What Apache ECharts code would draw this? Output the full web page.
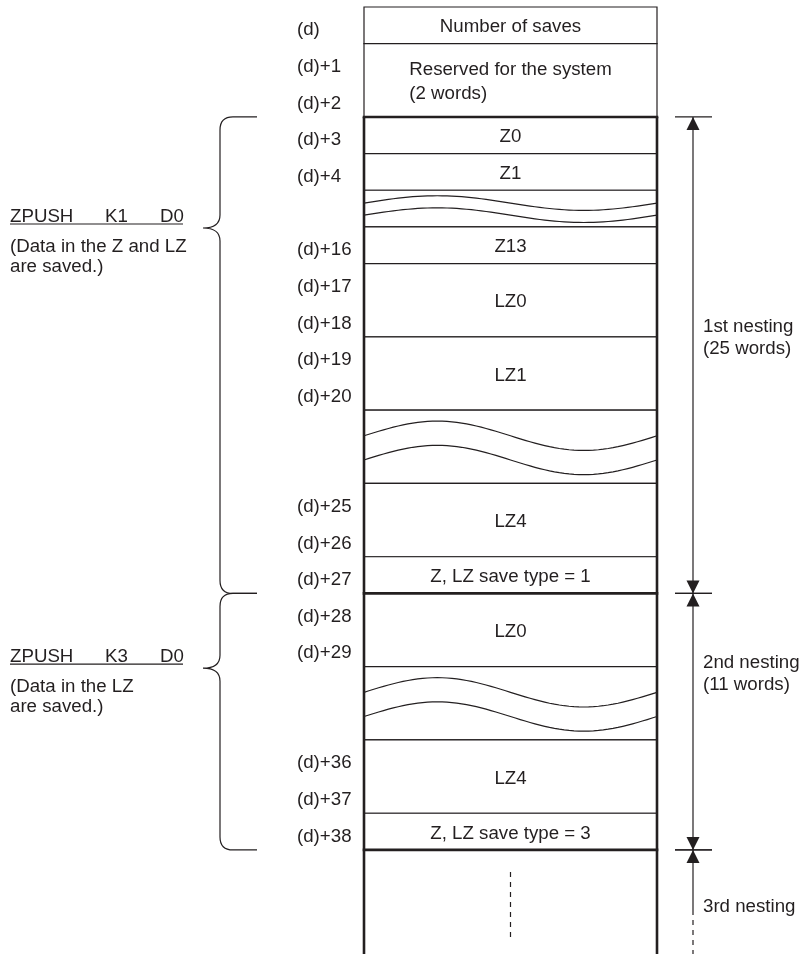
<!DOCTYPE html>
<html>
<head>
<meta charset="utf-8">
<script src="https://cdn.jsdelivr.net/npm/echarts@6/dist/echarts.min.js"></script>
<style>
  html, body { margin: 0; padding: 0; background: #fff; }
  #chart { width: 800px; height: 954px; }
</style>
</head>
<body>
<div id="chart"></div>
<script>
// memory rows, top to bottom. span = how many row slots a cell takes (wavy gaps count too)
const cellTexts = ['Number of saves', 'Reserved for the system\n(2 words)', 'Z0', 'Z1', '', 'Z13', 'LZ0', 'LZ1', '', 'LZ4',
  'Z, LZ save type = 1', 'LZ0', '', 'LZ4', 'Z, LZ save type = 3', ''];
const cellSpans = [1, 2, 1, 1, 1, 1, 2, 2, 2, 2, 1, 2, 2, 2, 1, 3];
const cellGaps = [false, false, false, false, true, false, false, false, true, false, false, false, true, false, false, false];

// device offsets down the left side and the slot they sit in
const offsetLabels = ['(d)', '(d)+1', '(d)+2', '(d)+3', '(d)+4', '(d)+16', '(d)+17', '(d)+18', '(d)+19', '(d)+20',
  '(d)+25', '(d)+26', '(d)+27', '(d)+28', '(d)+29', '(d)+36', '(d)+37', '(d)+38'];
const offsetSlots = [0, 1, 2, 3, 4, 6, 7, 8, 9, 10, 13, 14, 15, 16, 17, 20, 21, 22];

// nesting blocks (slot ranges)
const nestNames = ['1st nesting\n(25 words)', '2nd nesting\n(11 words)', '3rd nesting'];
const nestStart = [3, 16, 23];
const nestEnd = [16, 23, null];

// instructions that produced the first two blocks
const instrWords = [['ZPUSH', 'K1', 'D0'], ['ZPUSH', 'K3', 'D0']];
const instrNotes = ['(Data in the Z and LZ\nare saved.)', '(Data in the LZ\nare saved.)'];

// ---- layout ----
const SLOT_MAX = 25.84;
const BOX_L = 364, BOX_R = 657;
const INK = '#231f20';
const FONT = '18.7px "Liberation Sans", Arial, sans-serif';
const nestTextSlot = [9.03, 18.2, 24.56];
const braceTipSlot = [6.03, 18.04];

const cellStarts = [];
cellSpans.reduce((acc, s) => { cellStarts.push(acc); return acc + s; }, 0);

// widest line of a multi-line label, so a block can be centred but left-aligned
const measureCtx = document.createElement('canvas').getContext('2d');
measureCtx.font = FONT;
function blockWidth(t) {
  return Math.max.apply(null, t.split('\n').map(l => measureCtx.measureText(l).width));
}

const chart = echarts.init(document.getElementById('chart'));

function Y(api, s) { return api.coord([0, s])[1]; }

function renderCell(params, api) {
  const i = params.dataIndex;
  const y0 = Y(api, api.value(0));
  const y1 = Y(api, api.value(1));
  const children = [{
    type: 'rect',
    shape: { x: BOX_L, y: y0, width: BOX_R - BOX_L, height: y1 - y0 },
    style: { fill: '#fff', stroke: INK, lineWidth: 1.2 }
  }];
  const h = y1 - y0, mid = (y0 + y1) / 2;
  if (cellGaps[i]) {
    [-0.15, 0.18].forEach(k => {
      const pts = [];
      for (let t = 0; t <= 1.0001; t += 1 / 60) {
        pts.push([BOX_L + t * (BOX_R - BOX_L), mid + k * h - 0.2 * h * Math.sin(2 * Math.PI * t)]);
      }
      children.push({ type: 'polyline', shape: { points: pts }, style: { fill: null, stroke: INK, lineWidth: 1.2 } });
    });
  } else if (cellTexts[i]) {
    const multi = cellTexts[i].indexOf('\n') >= 0;
    const cx = (BOX_L + BOX_R) / 2;
    children.push({
      type: 'text',
      style: {
        text: cellTexts[i], x: multi ? cx - blockWidth(cellTexts[i]) / 2 : cx, y: mid + 2,
        textAlign: multi ? 'left' : 'center', textVerticalAlign: 'middle',
        font: FONT, fill: INK, lineHeight: 24
      }
    });
  }
  return { type: 'group', children };
}

function renderOffset(params, api) {
  const s = api.value(0);
  return {
    type: 'text',
    style: {
      text: offsetLabels[params.dataIndex], x: 297, y: Y(api, s + 0.5) + 5,
      textAlign: 'left', textVerticalAlign: 'middle', font: FONT, fill: INK
    }
  };
}

function renderNest(params, api) {
  const i = params.dataIndex;
  const y0 = Y(api, nestStart[i]);
  const hasEnd = nestEnd[i] != null;
  const y1 = hasEnd ? Y(api, nestEnd[i]) : Y(api, SLOT_MAX);
  const ax = 693, aw = 6.5, ah = 13;
  const children = [];
  // thick frame of the block
  children.push({ type: 'line', shape: { x1: BOX_L - 1.3, y1: y0, x2: BOX_R + 1.3, y2: y0 }, style: { stroke: INK, lineWidth: 2.6 } });
  children.push({ type: 'line', shape: { x1: BOX_L, y1: y0, x2: BOX_L, y2: y1 }, style: { stroke: INK, lineWidth: 2.6 } });
  children.push({ type: 'line', shape: { x1: BOX_R, y1: y0, x2: BOX_R, y2: y1 }, style: { stroke: INK, lineWidth: 2.6 } });
  // dimension arrow
  children.push({ type: 'line', shape: { x1: 675, y1: y0, x2: 712, y2: y0 }, style: { stroke: INK, lineWidth: 1.2 } });
  children.push({ type: 'polygon', shape: { points: [[ax, y0], [ax - aw, y0 + ah], [ax + aw, y0 + ah]] }, style: { fill: INK } });
  if (hasEnd) {
    children.push({ type: 'line', shape: { x1: ax, y1: y0, x2: ax, y2: y1 }, style: { stroke: INK, lineWidth: 1.2 } });
    children.push({ type: 'line', shape: { x1: 675, y1: y1, x2: 712, y2: y1 }, style: { stroke: INK, lineWidth: 1.2 } });
    children.push({ type: 'polygon', shape: { points: [[ax, y1], [ax - aw, y1 - ah], [ax + aw, y1 - ah]] }, style: { fill: INK } });
  } else {
    const ys = y0 + 60;
    children.push({ type: 'line', shape: { x1: ax, y1: y0, x2: ax, y2: ys }, style: { stroke: INK, lineWidth: 1.2 } });
    children.push({ type: 'line', shape: { x1: ax, y1: ys, x2: ax, y2: y1 }, style: { stroke: INK, lineWidth: 1.2, lineDash: [5, 5] } });
    // dashed continuation inside the box
    const cx = (BOX_L + BOX_R) / 2;
    children.push({ type: 'line', shape: { x1: cx, y1: y0 + 22, x2: cx, y2: y0 + 92 }, style: { stroke: INK, lineWidth: 1.2, lineDash: [5, 5] } });
  }
  children.push({
    type: 'text',
    style: {
      text: nestNames[i], x: 703, y: Y(api, nestTextSlot[i]),
      textAlign: 'left', textVerticalAlign: 'middle', font: FONT, fill: INK, lineHeight: 22
    }
  });
  return { type: 'group', children };
}

function renderBrace(params, api) {
  const i = params.dataIndex;
  const yT = Y(api, nestStart[i]), yB = Y(api, nestEnd[i]), yM = Y(api, braceTipSlot[i]);
  const xr = 257, xv = 220, xt = 203, r = 13;
  const d = `M${xr},${yT} L${xv + r},${yT} Q${xv},${yT} ${xv},${yT + r} L${xv},${yM - r} Q${xv},${yM} ${xt},${yM}` +
    ` Q${xv},${yM} ${xv},${yM + r} L${xv},${yB - r} Q${xv},${yB} ${xv + r},${yB} L${xr},${yB}`;
  const w = instrWords[i];
  const ty = yM - 11;
  return {
    type: 'group',
    children: [
      { type: 'path', shape: { pathData: d }, style: { fill: null, stroke: INK, lineWidth: 1.2 } },
      { type: 'text', style: { text: w[0], x: 10, y: ty, textAlign: 'left', textVerticalAlign: 'middle', font: FONT, fill: INK } },
      { type: 'text', style: { text: w[1], x: 105, y: ty, textAlign: 'left', textVerticalAlign: 'middle', font: FONT, fill: INK } },
      { type: 'text', style: { text: w[2], x: 160, y: ty, textAlign: 'left', textVerticalAlign: 'middle', font: FONT, fill: INK } },
      { type: 'line', shape: { x1: 10, y1: yM - 4, x2: 183, y2: yM - 4 }, style: { stroke: INK, lineWidth: 1.2 } },
      {
        type: 'text',
        style: { text: instrNotes[i], x: 10, y: yM + 9, textAlign: 'left', textVerticalAlign: 'top', font: FONT, fill: INK, lineHeight: 20 }
      }
    ]
  };
}

const option = {
  animation: false,
  grid: { left: 0, right: 0, top: 7, bottom: 0 },
  xAxis: { type: 'value', min: 0, max: 800, show: false },
  yAxis: { type: 'value', min: 0, max: SLOT_MAX, inverse: true, show: false },
  series: [
    {
      type: 'custom', z: 2, renderItem: renderCell,
      data: cellSpans.map((s, i) => [cellStarts[i], cellStarts[i] + s]),
      encode: { y: [0, 1] }
    },
    {
      type: 'custom', z: 3, renderItem: renderOffset,
      data: offsetSlots.map(s => [s]),
      encode: { y: 0 }
    },
    {
      type: 'custom', z: 4, renderItem: renderNest,
      data: nestStart.map((s, i) => [s, nestEnd[i] == null ? SLOT_MAX : nestEnd[i]]),
      encode: { y: [0, 1] }
    },
    {
      type: 'custom', z: 4, renderItem: renderBrace,
      data: instrWords.map((w, i) => [nestStart[i], nestEnd[i]]),
      encode: { y: [0, 1] }
    }
  ]
};

chart.setOption(option);
</script>
</body>
</html>
